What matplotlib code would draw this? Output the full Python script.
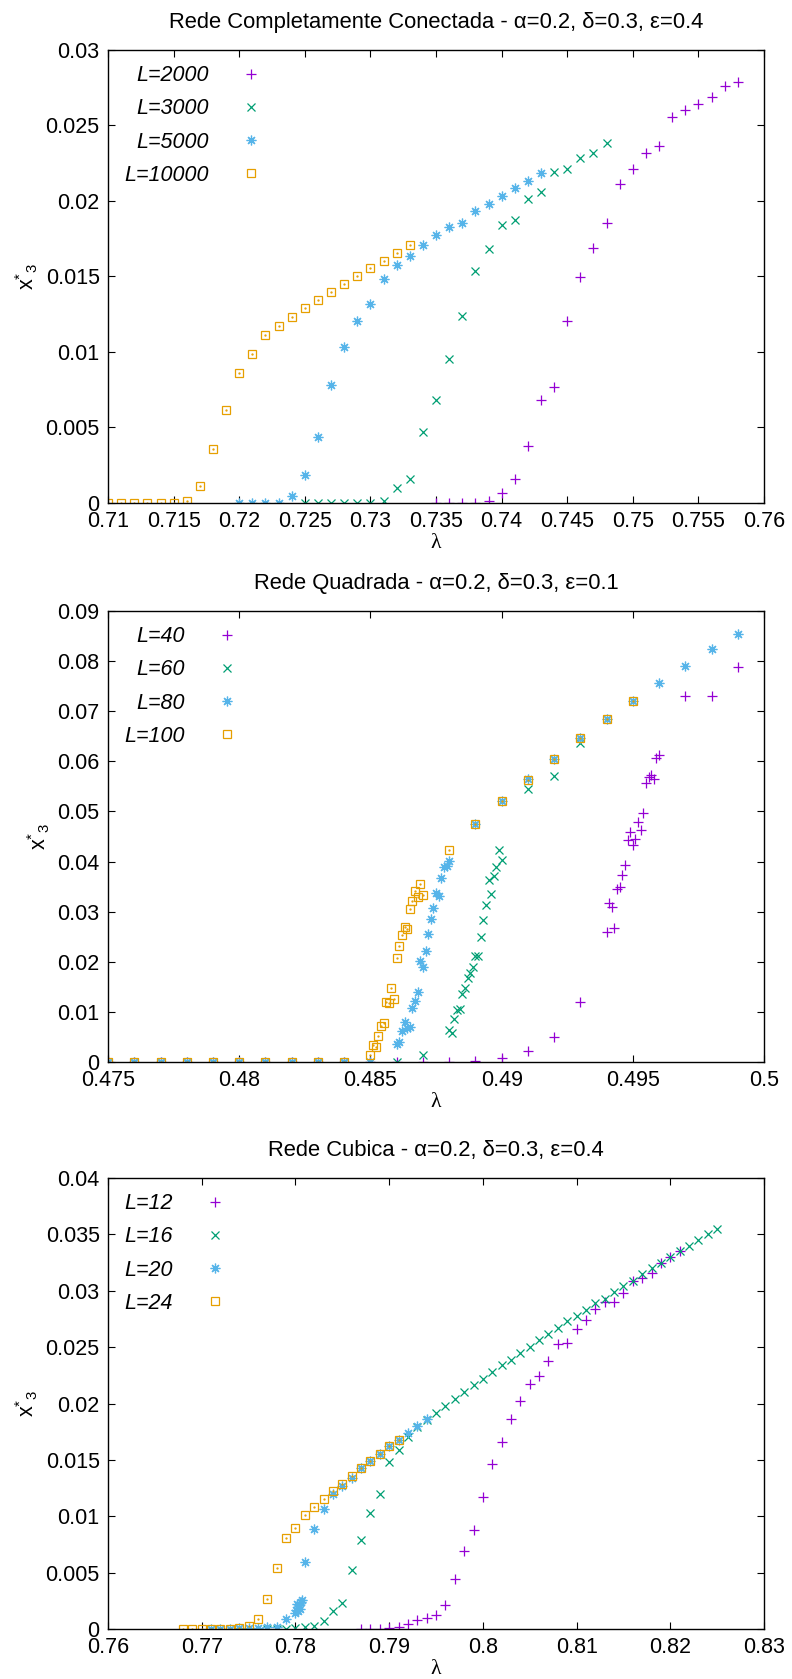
import matplotlib
matplotlib.use('Agg')
from matplotlib import pyplot as plt
from matplotlib.ticker import FuncFormatter

plt.rcParams['font.family'] = ['Liberation Sans', 'DejaVu Sans']
plt.rcParams['mathtext.fontset'] = 'custom'
plt.rcParams['mathtext.rm'] = 'Liberation Sans'
plt.rcParams['mathtext.it'] = 'Liberation Sans:italic'

# ---------- Rede Completamente Conectada ----------
fc_labels = ['L=2000', 'L=3000', 'L=5000', 'L=10000']
fc_lam_2000 = [0.735, 0.736, 0.737, 0.738, 0.739, 0.740, 0.741, 0.742, 0.743, 0.744, 0.745, 0.746,
               0.747, 0.748, 0.749, 0.750, 0.751, 0.752, 0.753, 0.754, 0.755, 0.756, 0.757, 0.758]
fc_x_2000 = [0, 0, 0, 0, 0.0001, 0.00064, 0.0016, 0.0038, 0.0068, 0.0077, 0.01205, 0.01495,
             0.01691, 0.01852, 0.0211, 0.02212, 0.02318, 0.02367, 0.02554, 0.0260, 0.0264, 0.0269, 0.0276, 0.0279]
fc_lam_3000 = [0.725, 0.726, 0.727, 0.728, 0.729, 0.730, 0.731, 0.732, 0.733, 0.734, 0.735, 0.736,
               0.737, 0.738, 0.739, 0.740, 0.741, 0.742, 0.743, 0.744, 0.745, 0.746, 0.747, 0.748]
fc_x_3000 = [0, 0, 0, 0, 0, 0, 0.0001, 0.00096, 0.00157, 0.00468, 0.0068, 0.00954,
             0.0124, 0.01536, 0.0168, 0.01839, 0.01874, 0.02011, 0.02058, 0.0219, 0.02214, 0.02283, 0.02316, 0.02382]
fc_lam_5000 = [0.720, 0.721, 0.722, 0.723, 0.724, 0.725, 0.726, 0.727, 0.728, 0.729, 0.730, 0.731,
               0.732, 0.733, 0.734, 0.735, 0.736, 0.737, 0.738, 0.739, 0.740, 0.741, 0.742, 0.743]
fc_x_5000 = [0, 0, 0, 0, 0.00049, 0.00188, 0.00439, 0.0078, 0.0103, 0.01205, 0.01316, 0.01485,
             0.01574, 0.01636, 0.01711, 0.01777, 0.01826, 0.01856, 0.01932, 0.01982, 0.02033, 0.02084, 0.02132, 0.02183]
fc_lam_10000 = [0.710, 0.711, 0.712, 0.713, 0.714, 0.715, 0.716, 0.717, 0.718, 0.719, 0.720, 0.721,
                0.722, 0.723, 0.724, 0.725, 0.726, 0.727, 0.728, 0.729, 0.730, 0.731, 0.732, 0.733]
fc_x_10000 = [0, 0, 0, 0, 0, 0, 0.0001, 0.0011, 0.0036, 0.00616, 0.00863, 0.00989,
              0.01115, 0.0117, 0.01232, 0.0129, 0.01344, 0.01395, 0.01448, 0.01503, 0.01554, 0.01604, 0.01656, 0.01707]
fc_xticks = [0.71, 0.715, 0.72, 0.725, 0.73, 0.735, 0.74, 0.745, 0.75, 0.755, 0.76]
fc_yticks = [0, 0.005, 0.01, 0.015, 0.02, 0.025, 0.03]

# ---------- Rede Quadrada ----------
sq_labels = ['L=40', 'L=60', 'L=80', 'L=100']
sq_lam_40 = [0.475, 0.476, 0.477, 0.478, 0.479, 0.480, 0.481, 0.482, 0.483, 0.484, 0.485, 0.486, 0.487, 0.488,
             0.489, 0.490, 0.491, 0.492, 0.493, 0.4940, 0.4941, 0.4942, 0.4943, 0.4944, 0.4945, 0.4946, 0.4947,
             0.4948, 0.4949, 0.4950, 0.4951, 0.4952, 0.4953, 0.4954, 0.4955, 0.4956, 0.4957, 0.4958, 0.4959,
             0.496, 0.497, 0.498, 0.499]
sq_x_40 = [0, 0, 0, 0, 0, 0, 0, 0, 0, 0, 0, 0, 0, 0,
           0.0002, 0.0008, 0.0021, 0.0049, 0.0119, 0.0260, 0.0317, 0.0310, 0.0267, 0.0345, 0.0349, 0.0373, 0.0393,
           0.0444, 0.0459, 0.0434, 0.0446, 0.0478, 0.0462, 0.0496, 0.0557, 0.0569, 0.0573, 0.0565, 0.0607,
           0.0612, 0.0730, 0.0730, 0.0789]
sq_lam_60 = [0.475, 0.476, 0.477, 0.478, 0.479, 0.480, 0.481, 0.482, 0.483, 0.484, 0.485, 0.486, 0.487,
             0.4880, 0.4881, 0.4882, 0.4883, 0.4884, 0.4885, 0.4886, 0.4887, 0.4888, 0.4889, 0.4890, 0.4891,
             0.4892, 0.4893, 0.4894, 0.4895, 0.4896, 0.4897, 0.4898, 0.4899, 0.4900, 0.491, 0.492, 0.493]
sq_x_60 = [0, 0, 0, 0, 0, 0, 0, 0, 0, 0, 0, 0, 0.0013,
           0.0063, 0.0057, 0.0085, 0.0104, 0.0105, 0.0135, 0.0148, 0.0168, 0.0178, 0.0190, 0.0212, 0.0212,
           0.0249, 0.0283, 0.0313, 0.0363, 0.0335, 0.0371, 0.0390, 0.0424, 0.0403, 0.0544, 0.0571, 0.0636]
sq_lam_80 = [0.475, 0.476, 0.477, 0.478, 0.479, 0.480, 0.481, 0.482, 0.483, 0.484, 0.485,
             0.4860, 0.4861, 0.4862, 0.4863, 0.4864, 0.4865, 0.4866, 0.4867, 0.4868, 0.4869, 0.4870,
             0.4871, 0.4872, 0.4873, 0.4874, 0.4875, 0.4876, 0.4877, 0.4878, 0.4879, 0.4880,
             0.489, 0.490, 0.491, 0.492, 0.493, 0.494, 0.495, 0.496, 0.497, 0.498, 0.499]
sq_x_80 = [0, 0, 0, 0, 0, 0, 0, 0, 0, 0, 0,
           0.0035, 0.0039, 0.0062, 0.0079, 0.0068, 0.0069, 0.0108, 0.0122, 0.0140, 0.0202, 0.0190,
           0.0222, 0.0255, 0.0286, 0.0308, 0.0337, 0.0331, 0.0367, 0.0389, 0.0391, 0.0402,
           0.0474, 0.0520, 0.0564, 0.0605, 0.0646, 0.0684, 0.0720, 0.0756, 0.0790, 0.0824, 0.0855]
sq_lam_100 = [0.475, 0.476, 0.477, 0.478, 0.479, 0.480, 0.481, 0.482, 0.483, 0.484,
              0.4850, 0.4851, 0.4852, 0.4853, 0.4854, 0.4855, 0.4856, 0.4857, 0.4858, 0.4859, 0.4860,
              0.4861, 0.4862, 0.4863, 0.4864, 0.4865, 0.4866, 0.4867, 0.4868, 0.4869, 0.4870,
              0.488, 0.489, 0.490, 0.491, 0.492, 0.493, 0.494, 0.495]
sq_x_100 = [0, 0, 0, 0, 0, 0, 0, 0, 0, 0,
            0.0013, 0.0033, 0.0029, 0.0052, 0.0072, 0.0078, 0.0120, 0.0117, 0.0147, 0.0126, 0.0207,
            0.0231, 0.0254, 0.0269, 0.0265, 0.0306, 0.0321, 0.0341, 0.0329, 0.0356, 0.0333,
            0.0423, 0.0474, 0.0520, 0.0562, 0.0605, 0.0646, 0.0684, 0.0720]
sq_xticks = [0.475, 0.48, 0.485, 0.49, 0.495, 0.5]
sq_yticks = [0, 0.01, 0.02, 0.03, 0.04, 0.05, 0.06, 0.07, 0.08, 0.09]

# ---------- Rede Cubica ----------
cu_labels = ['L=12', 'L=16', 'L=20', 'L=24']
cu_lam_12 = [0.787, 0.788, 0.789, 0.790, 0.791, 0.792, 0.793, 0.794, 0.795, 0.796, 0.797, 0.798,
             0.799, 0.800, 0.801, 0.802, 0.803, 0.804, 0.805, 0.806, 0.807, 0.808, 0.809, 0.810,
             0.811, 0.812, 0.813, 0.814, 0.815, 0.816, 0.817, 0.818, 0.819, 0.820, 0.821]
cu_x_12 = [0, 0, 0, 0.0001, 0.0002, 0.0004, 0.0008, 0.0010, 0.0012, 0.0021, 0.0044, 0.0069,
           0.0088, 0.0117, 0.0146, 0.0166, 0.0186, 0.0202, 0.0217, 0.0224, 0.0238, 0.0253, 0.0254, 0.0266,
           0.0274, 0.0284, 0.0290, 0.0290, 0.0298, 0.0309, 0.0311, 0.0316, 0.0325, 0.0330, 0.0335]
cu_lam_16 = [0.777, 0.778, 0.779, 0.780, 0.781, 0.782, 0.783, 0.784, 0.785, 0.786, 0.787, 0.788,
             0.789, 0.790, 0.791, 0.792, 0.793, 0.794, 0.795, 0.796, 0.797, 0.798, 0.799, 0.800,
             0.801, 0.802, 0.803, 0.804, 0.805, 0.806, 0.807, 0.808, 0.809, 0.810, 0.811, 0.812,
             0.813, 0.814, 0.815, 0.816, 0.817, 0.818, 0.819, 0.820, 0.821, 0.822, 0.823, 0.824, 0.825]
cu_x_16 = [0, 0, 0, 0.0001, 0.0002, 0.0003, 0.0007, 0.0016, 0.0023, 0.0052, 0.0079, 0.0103,
           0.0120, 0.0148, 0.0159, 0.0170, 0.0179, 0.0185, 0.0192, 0.0198, 0.0204, 0.0210, 0.0216, 0.0222,
           0.0228, 0.0234, 0.0239, 0.0245, 0.0250, 0.0256, 0.0262, 0.0267, 0.0273, 0.0278, 0.0283, 0.0289,
           0.0293, 0.0299, 0.0304, 0.0309, 0.0315, 0.0320, 0.0325, 0.0330, 0.0335, 0.0340, 0.0345, 0.0350, 0.0355]
cu_lam_20 = [0.771, 0.772, 0.773, 0.774, 0.775, 0.776, 0.777, 0.778, 0.779,
             0.7800, 0.7801, 0.7802, 0.7803, 0.7804, 0.7805, 0.7806, 0.7807,
             0.781, 0.782, 0.783, 0.784, 0.785, 0.786, 0.787, 0.788, 0.789, 0.790, 0.791, 0.792, 0.793, 0.794]
cu_x_20 = [0, 0, 0, 0.0001, 0.0001, 0.0001, 0.0002, 0.0002, 0.0009,
           0.0014, 0.0017, 0.0022, 0.0016, 0.0021, 0.0018, 0.0024, 0.0026,
           0.0059, 0.0089, 0.0106, 0.0120, 0.0127, 0.0134, 0.0143, 0.0149, 0.0155, 0.0162, 0.0168, 0.0174, 0.0180, 0.0186]
cu_lam_24 = [0.768, 0.769, 0.770, 0.771, 0.772, 0.773, 0.774, 0.775, 0.776, 0.777, 0.778, 0.779,
             0.780, 0.781, 0.782, 0.783, 0.784, 0.785, 0.786, 0.787, 0.788, 0.789, 0.790, 0.791]
cu_x_24 = [0, 0, 0, 0, 0, 0, 0.0001, 0.0003, 0.0009, 0.0027, 0.0054, 0.0081,
           0.0090, 0.0101, 0.0108, 0.0115, 0.0122, 0.0129, 0.0136, 0.0143, 0.0149, 0.0155, 0.0162, 0.0168]
cu_xticks = [0.76, 0.77, 0.78, 0.79, 0.8, 0.81, 0.82, 0.83]
cu_yticks = [0, 0.005, 0.01, 0.015, 0.02, 0.025, 0.03, 0.035, 0.04]

# gnuplot default colours / point types
colors = ['#9400D3', '#009E73', '#56B4E9', '#E69F00']
markers = ['+', 'x', (8, 2, 0), 's']
sizes = [7, 6, 7, 6.3]

FS = 15.5


def panel(ax, title, lams, vals, labels, xticks, yticks):
    for i in range(4):
        ax.plot(lams[i], vals[i], linestyle='none', marker=markers[i], ms=sizes[i],
                mew=0.9, color=colors[i], mfc='none', label=labels[i])
    # little centre dot of gnuplot's open squares
    ax.plot(lams[3], vals[3], linestyle='none', marker='.', ms=1.3, color=colors[3])
    ax.set_xlim(xticks[0], xticks[-1])
    ax.set_ylim(yticks[0], yticks[-1])
    ax.set_xticks(xticks)
    ax.set_yticks(yticks)
    fmt = FuncFormatter(lambda v, p: '%g' % round(v, 6))
    ax.xaxis.set_major_formatter(fmt)
    ax.yaxis.set_major_formatter(fmt)
    ax.tick_params(direction='in', top=True, right=True, length=5, width=0.8,
                   labelsize=FS, pad=6)
    ax.tick_params(axis='x', pad=5.5)
    for s in ax.spines.values():
        s.set_linewidth(1.0)
    ax.set_title(title, fontsize=15.8, pad=16)
    ax.set_xlabel('λ', fontsize=FS, family=['Liberation Serif', 'DejaVu Serif'], labelpad=2)
    ax.set_ylabel(r'x$^{*}{}_{3}$', fontsize=FS, labelpad=4)
    leg = ax.legend(loc='upper left', bbox_to_anchor=(0.002, 1.0), frameon=False, markerfirst=False,
                    prop={'family': 'Liberation Sans', 'style': 'italic', 'size': FS},
                    handlelength=1.0, handletextpad=1.45, labelspacing=0.57, borderpad=0.7,
                    borderaxespad=0.0, numpoints=1)
    # right-align the labels against the markers, as gnuplot does
    for col in leg._legend_handle_box.get_children():
        col.align = 'right'


fig = plt.figure(figsize=(7.92, 16.79), dpi=100)
ax1 = fig.add_axes([0.1364, 0.70042, 0.8283, 0.2698])
ax2 = fig.add_axes([0.1364, 0.36748, 0.8283, 0.26861])
ax3 = fig.add_axes([0.1364, 0.02978, 0.8283, 0.26861])

panel(ax1, 'Rede Completamente Conectada - α=0.2, δ=0.3, ε=0.4',
      [fc_lam_2000, fc_lam_3000, fc_lam_5000, fc_lam_10000],
      [fc_x_2000, fc_x_3000, fc_x_5000, fc_x_10000], fc_labels, fc_xticks, fc_yticks)
panel(ax2, 'Rede Quadrada - α=0.2, δ=0.3, ε=0.1',
      [sq_lam_40, sq_lam_60, sq_lam_80, sq_lam_100],
      [sq_x_40, sq_x_60, sq_x_80, sq_x_100], sq_labels, sq_xticks, sq_yticks)
panel(ax3, 'Rede Cubica - α=0.2, δ=0.3, ε=0.4',
      [cu_lam_12, cu_lam_16, cu_lam_20, cu_lam_24],
      [cu_x_12, cu_x_16, cu_x_20, cu_x_24], cu_labels, cu_xticks, cu_yticks)

fig.savefig('out.png', dpi=100)
